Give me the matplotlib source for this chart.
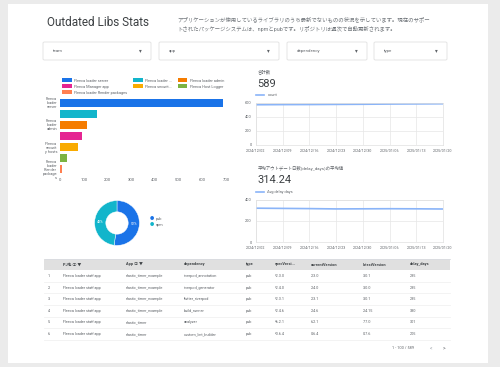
import textwrap
import matplotlib
matplotlib.use("Agg")
import matplotlib.pyplot as plt
from matplotlib.patches import Rectangle, FancyBboxPatch, Patch
from matplotlib.lines import Line2D

plt.rcParams['font.family'] = ['Roboto', 'Noto Sans CJK JP', 'DejaVu Sans']

# ---- data ----
title = "Outdated Libs Stats"
desc_lines = ["アプリケーションが使用しているライブラリのうち最新でないものの状況を示しています。現在のサポー",
              "トされたパッケージシステムは、npmとpubです。リポジトリは週次で自動更新されます。"]
filters = ["team", "app", "dependency", "type"]

bar_names = ["Fleeca loader server", "Fleeca loader staff app", "Fleeca loader admin",
             "Fleeca Manager app", "Fleeca security hosts", "Fleeca Host Logger",
             "Fleeca loader Render packages"]
bar_values = [688, 156, 114, 93, 76, 30, 8]
bar_colors = ["#1a73e8", "#12b5cb", "#f57c00", "#e52592", "#f9ab00", "#7cb342", "#ff7f50"]
bar_ticks = [0, 100, 200, 300, 400, 500, 600, 700]

pie_labels = ["pub", "npm"]
pie_values = [52, 48]
pie_colors = ["#1a73e8", "#12b5cb"]

dates = ["2024/12/02", "2024/12/09", "2024/12/16", "2024/12/23",
         "2024/12/30", "2025/01/06", "2025/01/13", "2025/01/20"]
count_values = [575, 577, 578, 580, 582, 585, 587, 589]
delay_values = [322, 320, 318, 315, 316, 317, 316, 314.24]

table_cols = ["PJ名 ⓘ ▼", "App ⓘ ▼", "dependency", "type", "specVersi...",
              "currentVersion", "latestVersion", "delay_days"]
table_rows = [
    ["Fleeca loader staff app", "elastic_timer_example", "riverpod_annotation", "pub", "^2.3.0", "2.3.0", "3.0.1", "235"],
    ["Fleeca loader staff app", "elastic_timer_example", "riverpod_generator", "pub", "^2.4.0", "2.4.0", "3.0.0", "235"],
    ["Fleeca loader staff app", "elastic_timer_example", "flutter_riverpod", "pub", "^2.3.1", "2.3.1", "3.0.1", "235"],
    ["Fleeca loader staff app", "elastic_timer_example", "build_runner", "pub", "^2.4.6", "2.4.6", "2.4.15", "380"],
    ["Fleeca loader staff app", "elastic_timer", "analyzer", "pub", "^6.2.1", "6.2.1", "7.7.0", "301"],
    ["Fleeca loader staff app", "elastic_timer", "custom_lint_builder", "pub", "^0.6.4", "0.6.4", "0.7.6", "205"],
]
total_rows = 589

W, H = 500, 367
def box(x0, y0, x1, y1):
    return [x0 / W, 1 - y1 / H, (x1 - x0) / W, (y1 - y0) / H]
def px(x, y):
    return x / W, 1 - y / H

fig = plt.figure(figsize=(5, 3.67), dpi=100, facecolor="#ebebeb")

# white card (behind everything)
fig.patches.append(Rectangle(px(8, 363), 480 / W, 359 / H, transform=fig.transFigure,
                             facecolor="white", edgecolor="none", zorder=-10))

grey = "#5f6368"
fig.text(*px(47, 23), title, fontsize=8.5, color="#3c4043", va="center")
fig.text(*px(177, 19), desc_lines[0], fontsize=3.9, color="#70757a", va="center")
fig.text(*px(177, 29), desc_lines[1], fontsize=3.9, color="#70757a", va="center")

# filter controls
fbox = [(43, 151), (159, 279), (287, 367), (374, 447)]
for (x0, x1), name in zip(fbox, filters):
    fig.patches.append(FancyBboxPatch(px(x0, 60), (x1 - x0) / W, 18 / H, transform=fig.transFigure,
                                      boxstyle="round,pad=0,rounding_size=0.003",
                                      facecolor="white", edgecolor="#e0e0e0", linewidth=0.6, zorder=-5))
    fig.text(*px(x0 + 10, 51), name, fontsize=3.2, color=grey, va="center")
    fig.text(*px(x1 - 11, 51), "▾", fontsize=4, color=grey, va="center", ha="center")

# ---- bar chart ----
ax = fig.add_axes(box(60, 97, 226, 175))
y = range(len(bar_names))
bars = ax.barh(y, bar_values, color=bar_colors, height=0.72)
ax.set_ylim(len(bar_names) - 0.5, -0.5)
ax.set_xlim(0, bar_ticks[-1])
ax.set_xticks(bar_ticks)
ax.set_xticklabels([str(t) for t in bar_ticks], fontsize=3, color=grey)
ax.set_yticks(list(y))
ax.set_yticklabels(["\n".join(textwrap.wrap(n, 7)) if i % 2 == 0 else "" for i, n in enumerate(bar_names)],
                   fontsize=2.8, color=grey, linespacing=1.0)
ax.tick_params(length=0, pad=2)
for s in ax.spines.values():
    s.set_visible(False)
short = [n[:14] + "..." if len(n) > 20 else n for n in bar_names]
short[-1] = bar_names[-1]
order = [0, 3, 6, 1, 4, 2, 5]
handles = [Patch(facecolor=bar_colors[i], label=short[i]) for i in order]
ax.legend(handles=handles, ncol=3, fontsize=2.8, frameon=False, loc="lower left",
          bbox_to_anchor=(0.0, 1.0), handlelength=2.4, handleheight=1.2,
          columnspacing=1.6, labelspacing=0.45, handletextpad=0.6, borderaxespad=0.2,
          labelcolor=grey)

# ---- donut ----
axp = fig.add_axes(box(89, 195, 145, 251))
axp.pie(pie_values, colors=pie_colors, startangle=90, counterclock=False,
        wedgeprops=dict(width=0.5, edgecolor="white", linewidth=0.3),
        autopct="%d%%", pctdistance=0.75, textprops=dict(fontsize=2.5, color="white"))
axp.set_aspect("equal")
for i, (lab, c) in enumerate(zip(pie_labels, pie_colors)):
    fig.text(*px(152, 219 + i * 6), "●", fontsize=3, color=c, va="center", ha="center")
    fig.text(*px(156, 219 + i * 6), lab, fontsize=2.8, color=grey, va="center")

# ---- line charts ----
def line_chart(rect, values, ticks, label, head, bigval, head_y):
    a = fig.add_axes(box(*rect))
    a.plot(range(len(values)), values, color="#8ab4f8", linewidth=1.2, label=label)
    a.set_xlim(0, len(values) - 1)
    a.set_ylim(0, ticks[-1])
    a.set_yticks(ticks)
    a.set_yticklabels([str(t) for t in ticks], fontsize=2.8, color=grey)
    a.set_xticks(range(len(dates)))
    a.set_xticklabels(dates, fontsize=2.6, color=grey)
    a.tick_params(length=0, pad=3)
    a.grid(color="#e6e6e6", linewidth=0.5)
    for s in a.spines.values():
        s.set_color("#e0e0e0")
        s.set_linewidth(0.5)
    a.legend(loc="lower left", bbox_to_anchor=(-0.01, 1.08), fontsize=2.8, frameon=False,
             handlelength=2.0, borderaxespad=0.2, labelcolor=grey)
    fig.text(*px(258, head_y), head, fontsize=3.2, color=grey, va="center")
    fig.text(*px(257, head_y + 12), bigval, fontsize=8, color="#3c4043", va="center")
    return a

line_chart((256, 103, 443, 145), count_values, [0, 200, 400, 600], "count",
           "合計数", str(count_values[-1]), 72)
line_chart((256, 200, 443, 242), delay_values, [0, 200, 400], "Avg delay days",
           "平均アウトデート日数(delay_days)の平均値", f"{delay_values[-1]:.2f}", 168)

# separator
fig.add_artist(Line2D([45 / W, 450 / W], [1 - 259 / H] * 2, color="#dadce0", linewidth=0.6))

# ---- table ----
fig.patches.append(Rectangle(px(44, 270), 406 / W, 11 / H, transform=fig.transFigure,
                             facecolor="#e0e0e0", edgecolor="none", zorder=-5))
col_x = [63, 126, 184, 246, 275, 311, 363, 410]
for x, c in zip(col_x, table_cols):
    fig.text(*px(x, 264.5), c, fontsize=2.8, color="#3c4043", va="center", fontweight="bold")
for r, row in enumerate(table_rows):
    yy = 276 + r * 11.6
    fig.text(*px(48, yy), f"{r + 1}.", fontsize=2.7, color=grey, va="center")
    for x, v in zip(col_x, row):
        fig.text(*px(x, yy), v, fontsize=2.7, color=grey, va="center")
    fig.add_artist(Line2D([44 / W, 450 / W], [1 - (yy + 5.8) / H] * 2, color="#eeeeee", linewidth=0.5))
fig.text(*px(392, 348), f"1 - 100 / {total_rows}", fontsize=2.8, color=grey, va="center")
fig.text(*px(430, 348), "<", fontsize=3.5, color="#9aa0a6", va="center")
fig.text(*px(443, 348), ">", fontsize=3.5, color=grey, va="center")

fig.savefig("out.png", dpi=100, facecolor=fig.get_facecolor())
